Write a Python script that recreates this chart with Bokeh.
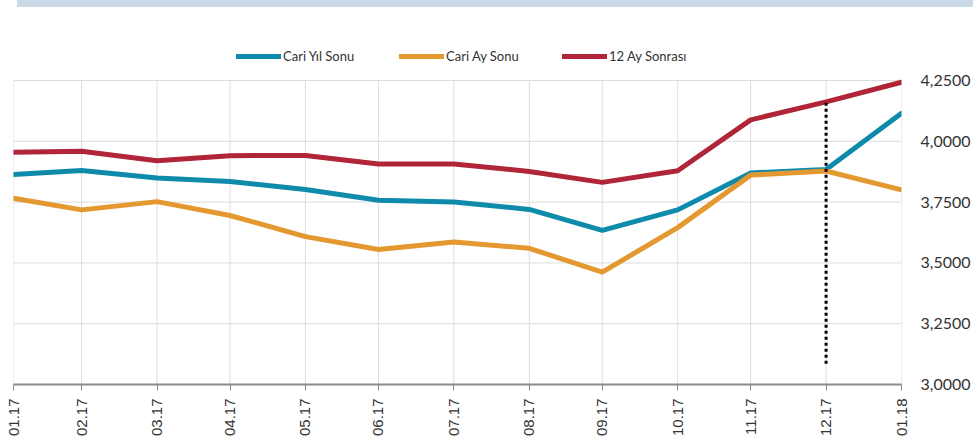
from datetime import datetime
from bokeh.plotting import figure
from bokeh.models import (Range1d, FixedTicker, DatetimeTickFormatter, CustomJSTickFormatter,
                          Legend, LegendItem, Div)
from bokeh.layouts import column
from bokeh.embed import file_html
from bokeh.resources import INLINE
from math import pi

dates = ["2017-01-31", "2017-02-28", "2017-03-31", "2017-04-30", "2017-05-31", "2017-06-30",
         "2017-07-31", "2017-08-31", "2017-09-30", "2017-10-31", "2017-11-30", "2017-12-31",
         "2018-01-31"]
cari_yil_sonu = [3.863, 3.880, 3.849, 3.835, 3.802, 3.758, 3.750, 3.720, 3.634, 3.718, 3.870, 3.884, 4.115]
cari_ay_sonu = [3.766, 3.718, 3.752, 3.695, 3.608, 3.555, 3.586, 3.560, 3.462, 3.645, 3.861, 3.878, 3.800]
ay12_sonrasi = [3.955, 3.959, 3.920, 3.941, 3.942, 3.907, 3.907, 3.876, 3.831, 3.879, 4.088, 4.162, 4.243]
series_names = ["Cari Yıl Sonu", "Cari Ay Sonu", "12 Ay Sonrası"]
y_ticks = [3.0, 3.25, 3.5, 3.75, 4.0, 4.25]
marker_date = "2017-12-31"
marker_low, marker_high = 3.085, 4.168

x = [datetime.strptime(d, "%Y-%m-%d") for d in dates]
xm = datetime.strptime(marker_date, "%Y-%m-%d")

y_lo, y_hi = y_ticks[0], y_ticks[-1]
px_per_unit = 304 / (y_hi - y_lo)
y_top = y_hi + 41 / px_per_unit   # white space above the grid for the legend

p = figure(output_backend="svg", toolbar_location=None,
           frame_width=888, frame_height=345,
           x_axis_type="datetime", y_axis_location="right",
           x_range=Range1d(x[0], x[-1]), y_range=Range1d(y_lo, y_top),
           min_border_left=13, min_border_top=23, min_border_bottom=51, min_border_right=10)
p.outline_line_color = None
p.background_fill_color = "white"
p.border_fill_color = "white"

tick_ms = [d.timestamp() * 1000 for d in x]
p.xaxis.ticker = FixedTicker(ticks=tick_ms)
fmt = "%m.%y"
p.xaxis.formatter = DatetimeTickFormatter(milliseconds=fmt, seconds=fmt, minsec=fmt, minutes=fmt,
                                          hourmin=fmt, hours=fmt, days=fmt, months=fmt, years=fmt)
p.xaxis.major_label_orientation = pi / 2
p.xaxis.major_label_text_font = "Liberation Sans"
p.xaxis.major_label_text_font_size = "15px"
p.xaxis.major_label_text_color = "#333333"
p.xaxis.major_label_standoff = 8
p.xaxis.axis_line_color = "#8c8c8c"
p.xaxis.axis_line_width = 2
p.xaxis.major_tick_line_color = "#8c8c8c"
p.xaxis.major_tick_line_width = 1
p.xaxis.major_tick_out = 6
p.xaxis.major_tick_in = 0
p.xaxis.minor_tick_line_color = None

p.yaxis.ticker = FixedTicker(ticks=y_ticks)
p.yaxis.formatter = CustomJSTickFormatter(code="return tick.toFixed(4).replace('.', ',');")
p.yaxis.major_label_text_font = "Lato"
p.yaxis.major_label_text_font_size = "16px"
p.yaxis.major_label_text_color = "#333333"
p.yaxis.major_label_standoff = 13
p.yaxis.axis_line_color = None
p.yaxis.major_tick_line_color = None
p.yaxis.minor_tick_line_color = None

p.xgrid.visible = False
p.ygrid.visible = False
grid_c = "#dcdcdc"
p.segment(x0=x, y0=[y_lo] * len(x), x1=x, y1=[y_hi] * len(x), line_color=grid_c, line_width=1)
p.segment(x0=[x[0]] * len(y_ticks), y0=y_ticks, x1=[x[-1]] * len(y_ticks), y1=y_ticks,
          line_color=grid_c, line_width=1)

colors = ["#0e8bab", "#e3992f", "#b02538"]
renderers = []
for vals, c in zip([cari_yil_sonu, cari_ay_sonu, ay12_sonrasi], colors):
    r = p.line(x, vals, line_color=c, line_width=5, line_cap="round", line_join="round")
    renderers.append(r)

p.line([xm, xm], [marker_low, marker_high], line_color="black", line_width=3, line_dash="3 3")

legend = Legend(items=[LegendItem(label=n, renderers=[r]) for n, r in zip(series_names, renderers)],
                orientation="horizontal", location=(223, 320),
                glyph_width=45, glyph_height=16, label_height=16, label_width=116,
                label_standoff=2, spacing=0, padding=0, margin=0,
                label_text_font="Lato", label_text_font_size="13px", label_text_color="#333333",
                border_line_color=None, background_fill_alpha=0)
p.add_layout(legend, "center")

bar = Div(text='<div style="position:relative;top:-10px;margin-left:12px;width:956px;'
               'height:7px;background:#cbd8e6"></div>',
          width=968, height=6)
layout = column(bar, p, spacing=0)

open("out.html", "w").write(file_html(layout, INLINE))
